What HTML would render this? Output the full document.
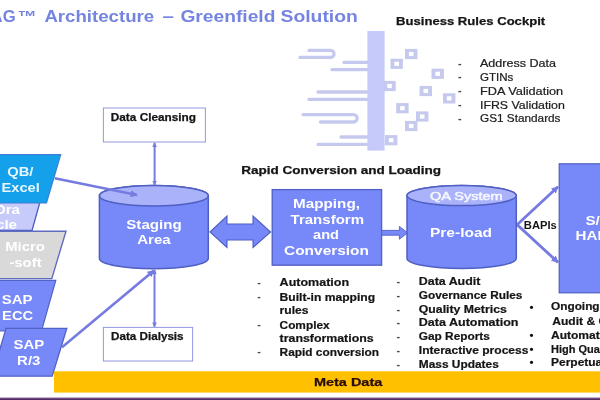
<!DOCTYPE html>
<html lang="en"><head><meta charset="utf-8"><title>Architecture – Greenfield Solution</title>
<style>
html,body{margin:0;padding:0;background:#fff}
body{width:600px;height:400px;overflow:hidden}
svg{display:block;font-family:"Liberation Sans",sans-serif}
</style></head><body>
<svg width="600" height="400" viewBox="0 0 600 400">
<defs><filter id="soft" filterUnits="userSpaceOnUse" x="-30" y="-30" width="660" height="460" color-interpolation-filters="sRGB"><feGaussianBlur stdDeviation="0.7"/></filter></defs>
<g filter="url(#soft)">
<rect x="-30" y="-30" width="660" height="460" fill="#fff"/>
<text y="22" font-size="16" font-weight="bold" fill="#7484e0"><tspan x="-9.4" textLength="25" lengthAdjust="spacingAndGlyphs">AG</tspan><tspan x="17.4" textLength="19.2" lengthAdjust="spacingAndGlyphs">™</tspan> <tspan x="44.4" textLength="109.8" lengthAdjust="spacingAndGlyphs">Architecture</tspan> <tspan x="162.6" textLength="11.4" lengthAdjust="spacingAndGlyphs">–</tspan> <tspan x="180.4" textLength="95" lengthAdjust="spacingAndGlyphs">Greenfield</tspan> <tspan x="280.5" textLength="77.3" lengthAdjust="spacingAndGlyphs">Solution</tspan></text>
<text x="396.0" y="24.7" font-size="11.3" font-weight="bold" fill="#151515" textLength="149.2" lengthAdjust="spacingAndGlyphs" stroke="#151515" stroke-width="0.25">Business Rules Cockpit</text>
<text x="458.0" y="66.5" font-size="10" font-weight="bold" fill="#444" textLength="3.6" lengthAdjust="spacingAndGlyphs">-</text>
<text x="480.0" y="67.1" font-size="10.4" fill="#202020" textLength="76.0" lengthAdjust="spacingAndGlyphs" stroke="#202020" stroke-width="0.2">Address Data</text>
<text x="458.0" y="80.1" font-size="10" font-weight="bold" fill="#444" textLength="3.6" lengthAdjust="spacingAndGlyphs">-</text>
<text x="480.0" y="80.7" font-size="10.4" fill="#202020" textLength="33.3" lengthAdjust="spacingAndGlyphs" stroke="#202020" stroke-width="0.2">GTINs</text>
<text x="458.0" y="94.3" font-size="10" font-weight="bold" fill="#444" textLength="3.6" lengthAdjust="spacingAndGlyphs">-</text>
<text x="480.0" y="94.9" font-size="10.4" fill="#202020" textLength="83.2" lengthAdjust="spacingAndGlyphs" stroke="#202020" stroke-width="0.2">FDA Validation</text>
<text x="458.0" y="108.3" font-size="10" font-weight="bold" fill="#444" textLength="3.6" lengthAdjust="spacingAndGlyphs">-</text>
<text x="480.0" y="108.9" font-size="10.4" fill="#202020" textLength="84.8" lengthAdjust="spacingAndGlyphs" stroke="#202020" stroke-width="0.2">IFRS Validation</text>
<text x="458.0" y="121.5" font-size="10" font-weight="bold" fill="#444" textLength="3.6" lengthAdjust="spacingAndGlyphs">-</text>
<text x="480.0" y="122.1" font-size="10.4" fill="#202020" textLength="80.5" lengthAdjust="spacingAndGlyphs" stroke="#202020" stroke-width="0.2">GS1 Standards</text>
<rect x="367.4" y="31" width="17.2" height="119.6" fill="#c6cafa"/>
<g fill="none" stroke="#c6c9ee" stroke-width="3.3" stroke-linecap="round">
<path d="M309 50.4 H330.5 A3.5 3.5 0 0 1 330.5 57.4 H300"/>
<path d="M344 62.4 H368"/>
<path d="M332 69.6 H368"/>
<path d="M318 92 H368"/>
<path d="M309 99.4 H368"/>
<path d="M303 114.6 H353.5 A3.7 3.7 0 0 1 353.5 122 H320.5"/>
<path d="M341 137 H368"/>
<path d="M318 144.4 H368"/>
</g>
<rect x="405.0" y="48.9" width="12.4" height="10.2" fill="#c6c9ee"/>
<rect x="408.9" y="51.9" width="4.6" height="4.2" fill="#fff"/>
<rect x="390.5" y="58.7" width="12.4" height="10.2" fill="#c6c9ee"/>
<rect x="394.4" y="61.7" width="4.6" height="4.2" fill="#fff"/>
<rect x="431.5" y="68.7" width="12.4" height="10.2" fill="#c6c9ee"/>
<rect x="435.4" y="71.7" width="4.6" height="4.2" fill="#fff"/>
<rect x="383.3" y="80.9" width="12.4" height="10.2" fill="#c6c9ee"/>
<rect x="387.2" y="83.9" width="4.6" height="4.2" fill="#fff"/>
<rect x="419.6" y="85.9" width="12.4" height="10.2" fill="#c6c9ee"/>
<rect x="423.5" y="88.9" width="4.6" height="4.2" fill="#fff"/>
<rect x="443.0" y="93.3" width="12.4" height="10.2" fill="#c6c9ee"/>
<rect x="446.9" y="96.3" width="4.6" height="4.2" fill="#fff"/>
<rect x="396.2" y="103.1" width="12.4" height="10.2" fill="#c6c9ee"/>
<rect x="400.1" y="106.1" width="4.6" height="4.2" fill="#fff"/>
<rect x="416.0" y="111.4" width="12.4" height="10.2" fill="#c6c9ee"/>
<rect x="419.9" y="114.4" width="4.6" height="4.2" fill="#fff"/>
<rect x="405.0" y="120.9" width="12.4" height="10.2" fill="#c6c9ee"/>
<rect x="408.9" y="123.9" width="4.6" height="4.2" fill="#fff"/>
<rect x="385.0" y="135.1" width="12.4" height="10.2" fill="#c6c9ee"/>
<rect x="388.9" y="138.1" width="4.6" height="4.2" fill="#fff"/>
<polygon points="-10,280.4 55.8,280.4 41.5,331 -10,331" fill="#7788f8" stroke="#5262c2" stroke-width="1.2" stroke-linejoin="miter"/>
<polygon points="6,328.4 66.8,328.4 52.2,376.2 -8,376.2" fill="#7788f8" stroke="#5262c2" stroke-width="1.3" stroke-linejoin="miter"/>
<polygon points="-10,202 40,202 32,230.5 -10,230.5" fill="#c7cbfa" stroke="#4c5cc0" stroke-width="1.3" stroke-linejoin="miter"/>
<polygon points="-10,231.2 66,231.2 51.8,278.6 -10,278.6" fill="#d9d9d9" stroke="#5f6cc0" stroke-width="1.4" stroke-linejoin="miter"/>
<polygon points="-10,154.6 60.7,154.6 46.5,203 -10,203" fill="#14a0ea" stroke="#3d7fd6" stroke-width="1.2" stroke-linejoin="miter"/>
<text x="7.2" y="175.9" font-size="12" font-weight="bold" fill="#e8f7ff" textLength="26.2" lengthAdjust="spacingAndGlyphs">QB/</text>
<text x="1.5" y="191.7" font-size="12" font-weight="bold" fill="#e8f7ff" textLength="38.2" lengthAdjust="spacingAndGlyphs">Excel</text>
<text x="-6.0" y="213.8" font-size="12" font-weight="bold" fill="#ffffff" textLength="26.0" lengthAdjust="spacingAndGlyphs">Ora</text>
<text x="-4.0" y="229.1" font-size="12" font-weight="bold" fill="#ffffff" textLength="21.0" lengthAdjust="spacingAndGlyphs">cle</text>
<text x="5.2" y="251.0" font-size="12" font-weight="bold" fill="#ffffff" textLength="39.8" lengthAdjust="spacingAndGlyphs">Micro</text>
<text x="9.4" y="267.0" font-size="12" font-weight="bold" fill="#ffffff" textLength="32.2" lengthAdjust="spacingAndGlyphs">-soft</text>
<text x="1.8" y="303.5" font-size="12" font-weight="bold" fill="#ffffff" textLength="30.7" lengthAdjust="spacingAndGlyphs">SAP</text>
<text x="2.1" y="319.5" font-size="12" font-weight="bold" fill="#ffffff" textLength="31.0" lengthAdjust="spacingAndGlyphs">ECC</text>
<text x="13.5" y="348.7" font-size="12" font-weight="bold" fill="#ffffff" textLength="30.7" lengthAdjust="spacingAndGlyphs">SAP</text>
<text x="17.1" y="364.5" font-size="12" font-weight="bold" fill="#ffffff" textLength="23.3" lengthAdjust="spacingAndGlyphs">R/3</text>
<rect x="103.4" y="108" width="102" height="34" fill="#fff" stroke="#9298e0" stroke-width="1"/>
<text x="110.8" y="120.5" font-size="10.4" font-weight="bold" fill="#151515" textLength="85.2" lengthAdjust="spacingAndGlyphs" stroke="#151515" stroke-width="0.25">Data Cleansing</text>
<rect x="103.4" y="327.4" width="89.2" height="33.6" fill="#fff" stroke="#9298e0" stroke-width="1"/>
<text x="111.0" y="340.0" font-size="10.4" font-weight="bold" fill="#151515" textLength="72.6" lengthAdjust="spacingAndGlyphs" stroke="#151515" stroke-width="0.25">Data Dialysis</text>
<defs>
<marker id="ah" viewBox="0 0 10 10" refX="9" refY="5" markerWidth="7" markerHeight="7" orient="auto-start-reverse" markerUnits="userSpaceOnUse"><path d="M0 0 L10 5 L0 10 Z" fill="#757be0"/></marker>
<marker id="as" viewBox="0 0 10 10" refX="9" refY="5" markerWidth="4.8" markerHeight="4.8" orient="auto-start-reverse" markerUnits="userSpaceOnUse"><path d="M0 0 L10 5 L0 10 Z" fill="#757be0"/></marker>
</defs>
<path d="M99.4 195.79999999999998 V258.6 A54.45 10.2 0 0 0 208.3 258.6 V195.79999999999998 A54.45 10.2 0 0 0 99.4 195.79999999999998 Z" fill="#7788f8" stroke="#4f5fc2" stroke-width="1.5"/>
<ellipse cx="153.85000000000002" cy="195.79999999999998" rx="54.45" ry="10.2" fill="#aab3fa" stroke="#4f5fc2" stroke-width="1.5"/>
<text x="126.3" y="229.0" font-size="12.6" font-weight="bold" fill="#ffffff" textLength="55.4" lengthAdjust="spacingAndGlyphs">Staging</text>
<text x="137.2" y="244.4" font-size="12.6" font-weight="bold" fill="#ffffff" textLength="33.5" lengthAdjust="spacingAndGlyphs">Area</text>
<g stroke="#757be0" fill="none">
<path d="M154.6 142.8 V185" stroke-width="2" marker-start="url(#as)" marker-end="url(#as)"/>
<path d="M154.5 270 V326.8" stroke-width="2" marker-start="url(#as)" marker-end="url(#as)"/>
<path d="M54.7 178.2 L137 195" stroke-width="2.5" marker-end="url(#ah)"/>
<path d="M62 347.3 L154 270.5" stroke-width="2.6" marker-end="url(#ah)"/>
<path d="M516.8 225 L558 186.8" stroke-width="2.8" marker-end="url(#ah)"/>
<path d="M516.8 224.4 L558 262.4" stroke-width="2.8" marker-end="url(#ah)"/>
</g>
<polygon points="210,232 227,216 227,224 253,224 253,216 270.6,232 253,247.5 253,240 227,240 227,247.5" fill="#7788f8" stroke="#4f5fc2" stroke-width="1.1"/>
<rect x="272.2" y="189.6" width="109.4" height="75.6" fill="#7788f8" stroke="#4f5fc2" stroke-width="1.3"/>
<text x="293.0" y="208.0" font-size="12.6" font-weight="bold" fill="#ffffff" textLength="67.0" lengthAdjust="spacingAndGlyphs">Mapping,</text>
<text x="290.6" y="223.6" font-size="12.6" font-weight="bold" fill="#ffffff" textLength="73.4" lengthAdjust="spacingAndGlyphs">Transform</text>
<text x="313.0" y="239.0" font-size="12.6" font-weight="bold" fill="#ffffff" textLength="26.0" lengthAdjust="spacingAndGlyphs">and</text>
<text x="284.0" y="255.2" font-size="12.6" font-weight="bold" fill="#ffffff" textLength="85.0" lengthAdjust="spacingAndGlyphs">Conversion</text>
<polygon points="381.6,230.4 399.4,230.4 399.4,226.4 407.6,232.8 399.4,239.2 399.4,235.2 381.6,235.2" fill="#7788f8" stroke="#4f5fc2" stroke-width="0.9"/>
<path d="M407 195.6 V258.4 A54.64999999999998 10 0 0 0 516.3 258.4 V195.6 A54.64999999999998 10 0 0 0 407 195.6 Z" fill="#7788f8" stroke="#4f5fc2" stroke-width="1.5"/>
<ellipse cx="461.65" cy="195.6" rx="54.64999999999998" ry="10" fill="#aab3fa" stroke="#4f5fc2" stroke-width="1.5"/>
<text x="430.0" y="200.3" font-size="11.5" fill="#f5f6ff" textLength="72.6" lengthAdjust="spacingAndGlyphs" stroke="#f5f6ff" stroke-width="0.55">QA System</text>
<text x="430.0" y="237.0" font-size="12.6" font-weight="bold" fill="#ffffff" textLength="62.0" lengthAdjust="spacingAndGlyphs">Pre-load</text>
<rect x="559.2" y="163.8" width="60" height="129" fill="#7788f8" stroke="#4f5fc2" stroke-width="1.2"/>
<text x="585.4" y="225.4" font-size="12.6" font-weight="bold" fill="#ffffff" textLength="22.9" lengthAdjust="spacingAndGlyphs">S/4</text>
<text x="575.6" y="240.2" font-size="12.6" font-weight="bold" fill="#ffffff" textLength="43.6" lengthAdjust="spacingAndGlyphs">HANA</text>
<text x="523.8" y="229.0" font-size="10.4" font-weight="bold" fill="#151515" textLength="33.0" lengthAdjust="spacingAndGlyphs">BAPIs</text>
<text x="241.3" y="173.6" font-size="10.4" font-weight="bold" fill="#151515" textLength="199.7" lengthAdjust="spacingAndGlyphs" stroke="#151515" stroke-width="0.25">Rapid Conversion and Loading</text>
<text x="257.3" y="285.6" font-size="10" font-weight="bold" fill="#4a4a4a" textLength="3.6" lengthAdjust="spacingAndGlyphs">-</text>
<text x="279.6" y="285.8" font-size="10" font-weight="bold" fill="#151515" textLength="69.5" lengthAdjust="spacingAndGlyphs" stroke="#151515" stroke-width="0.2">Automation</text>
<text x="257.3" y="300.3" font-size="10" font-weight="bold" fill="#4a4a4a" textLength="3.6" lengthAdjust="spacingAndGlyphs">-</text>
<text x="279.6" y="300.5" font-size="10" font-weight="bold" fill="#151515" textLength="95.5" lengthAdjust="spacingAndGlyphs" stroke="#151515" stroke-width="0.2">Built-in mapping</text>
<text x="279.6" y="314.1" font-size="10" font-weight="bold" fill="#151515" textLength="29.0" lengthAdjust="spacingAndGlyphs" stroke="#151515" stroke-width="0.2">rules</text>
<text x="257.3" y="328.3" font-size="10" font-weight="bold" fill="#4a4a4a" textLength="3.6" lengthAdjust="spacingAndGlyphs">-</text>
<text x="279.6" y="328.5" font-size="10" font-weight="bold" fill="#151515" textLength="50.0" lengthAdjust="spacingAndGlyphs" stroke="#151515" stroke-width="0.2">Complex</text>
<text x="279.6" y="341.6" font-size="10" font-weight="bold" fill="#151515" textLength="94.0" lengthAdjust="spacingAndGlyphs" stroke="#151515" stroke-width="0.2">transformations</text>
<text x="257.3" y="355.3" font-size="10" font-weight="bold" fill="#4a4a4a" textLength="3.6" lengthAdjust="spacingAndGlyphs">-</text>
<text x="279.6" y="355.5" font-size="10" font-weight="bold" fill="#151515" textLength="99.5" lengthAdjust="spacingAndGlyphs" stroke="#151515" stroke-width="0.2">Rapid conversion</text>
<text x="396.6" y="285.2" font-size="10" font-weight="bold" fill="#4a4a4a" textLength="3.6" lengthAdjust="spacingAndGlyphs">-</text>
<text x="418.8" y="285.1" font-size="10" font-weight="bold" fill="#151515" textLength="61.5" lengthAdjust="spacingAndGlyphs" stroke="#151515" stroke-width="0.2">Data Audit</text>
<text x="396.6" y="298.9" font-size="10" font-weight="bold" fill="#4a4a4a" textLength="3.6" lengthAdjust="spacingAndGlyphs">-</text>
<text x="418.8" y="298.8" font-size="10" font-weight="bold" fill="#151515" textLength="103.5" lengthAdjust="spacingAndGlyphs" stroke="#151515" stroke-width="0.2">Governance Rules</text>
<text x="396.6" y="312.7" font-size="10" font-weight="bold" fill="#4a4a4a" textLength="3.6" lengthAdjust="spacingAndGlyphs">-</text>
<text x="418.8" y="312.6" font-size="10" font-weight="bold" fill="#151515" textLength="88.0" lengthAdjust="spacingAndGlyphs" stroke="#151515" stroke-width="0.2">Quality Metrics</text>
<text x="396.6" y="326.4" font-size="10" font-weight="bold" fill="#4a4a4a" textLength="3.6" lengthAdjust="spacingAndGlyphs">-</text>
<text x="418.8" y="326.3" font-size="10" font-weight="bold" fill="#151515" textLength="99.7" lengthAdjust="spacingAndGlyphs" stroke="#151515" stroke-width="0.2">Data Automation</text>
<text x="396.6" y="340.1" font-size="10" font-weight="bold" fill="#4a4a4a" textLength="3.6" lengthAdjust="spacingAndGlyphs">-</text>
<text x="418.8" y="340.0" font-size="10" font-weight="bold" fill="#151515" textLength="71.0" lengthAdjust="spacingAndGlyphs" stroke="#151515" stroke-width="0.2">Gap Reports</text>
<text x="396.6" y="353.8" font-size="10" font-weight="bold" fill="#4a4a4a" textLength="3.6" lengthAdjust="spacingAndGlyphs">-</text>
<text x="418.8" y="353.8" font-size="10" font-weight="bold" fill="#151515" textLength="109.6" lengthAdjust="spacingAndGlyphs" stroke="#151515" stroke-width="0.2">Interactive process</text>
<text x="396.6" y="367.6" font-size="10" font-weight="bold" fill="#4a4a4a" textLength="3.6" lengthAdjust="spacingAndGlyphs">-</text>
<text x="418.8" y="367.5" font-size="10" font-weight="bold" fill="#151515" textLength="80.0" lengthAdjust="spacingAndGlyphs" stroke="#151515" stroke-width="0.2">Mass Updates</text>
<text x="551.0" y="310.3" font-size="10" font-weight="bold" fill="#151515" textLength="48.6" lengthAdjust="spacingAndGlyphs" stroke="#151515" stroke-width="0.2">Ongoing</text>
<text x="531.4" y="310.6" font-size="11.5" font-weight="bold" fill="#111" text-anchor="middle">•</text>
<text x="552.2" y="324.6" font-size="10" font-weight="bold" fill="#151515" textLength="116.3" lengthAdjust="spacingAndGlyphs" stroke="#151515" stroke-width="0.2">Audit &amp; Governance</text>
<text x="551.0" y="338.6" font-size="10" font-weight="bold" fill="#151515" textLength="62.8" lengthAdjust="spacingAndGlyphs" stroke="#151515" stroke-width="0.2">Automated</text>
<text x="531.4" y="339.0" font-size="11.5" font-weight="bold" fill="#111" text-anchor="middle">•</text>
<text x="551.0" y="352.6" font-size="10" font-weight="bold" fill="#151515" textLength="64.7" lengthAdjust="spacingAndGlyphs" stroke="#151515" stroke-width="0.2">High Quality</text>
<text x="531.4" y="353.4" font-size="11.5" font-weight="bold" fill="#111" text-anchor="middle">•</text>
<text x="551.0" y="365.6" font-size="10" font-weight="bold" fill="#151515" textLength="54.6" lengthAdjust="spacingAndGlyphs" stroke="#151515" stroke-width="0.2">Perpetual</text>
<text x="531.4" y="366.2" font-size="11.5" font-weight="bold" fill="#111" text-anchor="middle">•</text>
<rect x="54" y="371.3" width="580" height="21.3" fill="#ffc000"/>
<text x="313.9" y="386.0" font-size="11" font-weight="bold" fill="#2a0d08" textLength="68.4" lengthAdjust="spacingAndGlyphs" stroke="#2a0d08" stroke-width="0.25">Meta Data</text>
<rect x="-30" y="397.5" width="660" height="1.2" fill="#8a6c9a"/>
<rect x="-30" y="398.3" width="660" height="30" fill="#532c66"/>
</g>
</svg>
</body></html>
